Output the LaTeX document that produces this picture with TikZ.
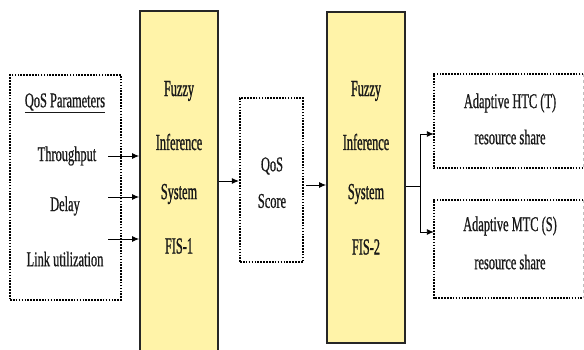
\documentclass[tikz,border=0pt]{standalone}
\usepackage{fontspec}
\setmainfont[FakeStretch=0.59,FakeBold=0.7]{Liberation Serif}
\newfontfamily\fisfont[FakeStretch=0.535,FakeBold=1.0]{Liberation Serif}
\usetikzlibrary{arrows.meta}
\definecolor{fisyellow}{RGB}{255,243,168}
\begin{document}
\begin{tikzpicture}[x=1pt,y=-1pt,
  txt/.style={font=\fontsize{21}{23}\selectfont, inner sep=0pt, text=black!90},
  fistxt/.style={font=\fisfont\fontsize{23}{25}\selectfont, inner sep=0pt, text=black!90},
  dotline/.style={line width=2.2pt, dash pattern=on 1.6pt off 1.3pt},
  fisbox/.style={draw=black!85, line width=1.8pt, fill=fisyellow, inner sep=0pt},
  plain/.style={draw=none, inner sep=0pt},
  arr/.style={line width=0.9pt, -{Latex[length=7pt,width=6pt]}},
  ln/.style={line width=0.9pt}]
\clip (0,0) rectangle (584,350);
\fill[white] (0,0) rectangle (584,350);

% boxes
\node[plain, draw, dotline, minimum width=111pt, minimum height=225pt] (par) at (65.5,187.5) {};
\node[fisbox, minimum width=78pt, minimum height=345pt] (fis1) at (179,183.5) {};
\node[plain, draw, dotline, minimum width=63pt, minimum height=164pt] (qos) at (271.5,180) {};
\node[fisbox, minimum width=78pt, minimum height=331pt] (fis2) at (366,177.5) {};
\node[plain, minimum width=149pt, minimum height=94pt] (htc) at (508.5,121) {};
\node[plain, minimum width=149pt, minimum height=98pt] (mtc) at (508.5,249) {};
\draw[dotline] (htc.north east) -- (htc.north west) -- (htc.south west) -- (htc.south east);
\draw[black!25, line width=0.8pt, dashed] (htc.north east) -- (htc.south east);
\draw[dotline] (mtc.north east) -- (mtc.north west) -- (mtc.south west) -- (mtc.south east);
\draw[black!25, line width=0.8pt, dashed] (mtc.north east) -- (mtc.south east);

% texts
\node[txt] (ttl) at (65,103) {\underline{QoS Parameters}};
\node[txt] (thr) at (67,156) {Throughput};
\node[txt] (dly) at (65,206) {Delay};
\node[txt] (lnk) at (65,259) {Link utilization};

\node[fistxt] (f1a) at (179,91) {Fuzzy};
\node[fistxt] (f1b) at (179,142) {Inference};
\node[fistxt] (f1c) at (179,194) {System};
\node[fistxt] (f1d) at (179,246) {FIS-1};

\node[txt] (q1) at (272,166) {QoS};
\node[txt] (q2) at (272,201) {Score};

\node[fistxt] (f2a) at (366,91) {Fuzzy};
\node[fistxt] (f2b) at (366,142) {Inference};
\node[fistxt] (f2c) at (366,194) {System};
\node[fistxt] (f2d) at (366,247) {FIS-2};

\node[txt] (h1) at (510,103) {Adaptive HTC (T)};
\node[txt] (h2) at (510,137) {resource share};
\node[txt] (m1) at (510,226) {Adaptive MTC (S)};
\node[txt] (m2) at (510,262) {resource share};

% connectors
\coordinate (a1) at (108,156);
\coordinate (a2) at (108,197);
\coordinate (a3) at (108,239);
\draw[arr] (a1) -- (a1 -| fis1.west);
\draw[arr] (a2) -- (a2 -| fis1.west);
\draw[arr] (a3) -- (a3 -| fis1.west);

\coordinate (b1) at (218,181);
\draw[arr] (b1 -| fis1.east) -- (b1 -| qos.west);
\coordinate (b2) at (306,185);
\draw[arr] (b2) -- (b2 -| fis2.west);

\coordinate (c0) at (420,186);
\coordinate (c1) at (420,134);
\coordinate (c2) at (420,232);
\draw[ln] (c0 -| fis2.east) -- (c0);
\draw[ln] (c1) -- (c2);
\draw[arr] (c1) -- (c1 -| htc.west);
\draw[arr] (c2) -- (c2 -| mtc.west);
\end{tikzpicture}
\end{document}
